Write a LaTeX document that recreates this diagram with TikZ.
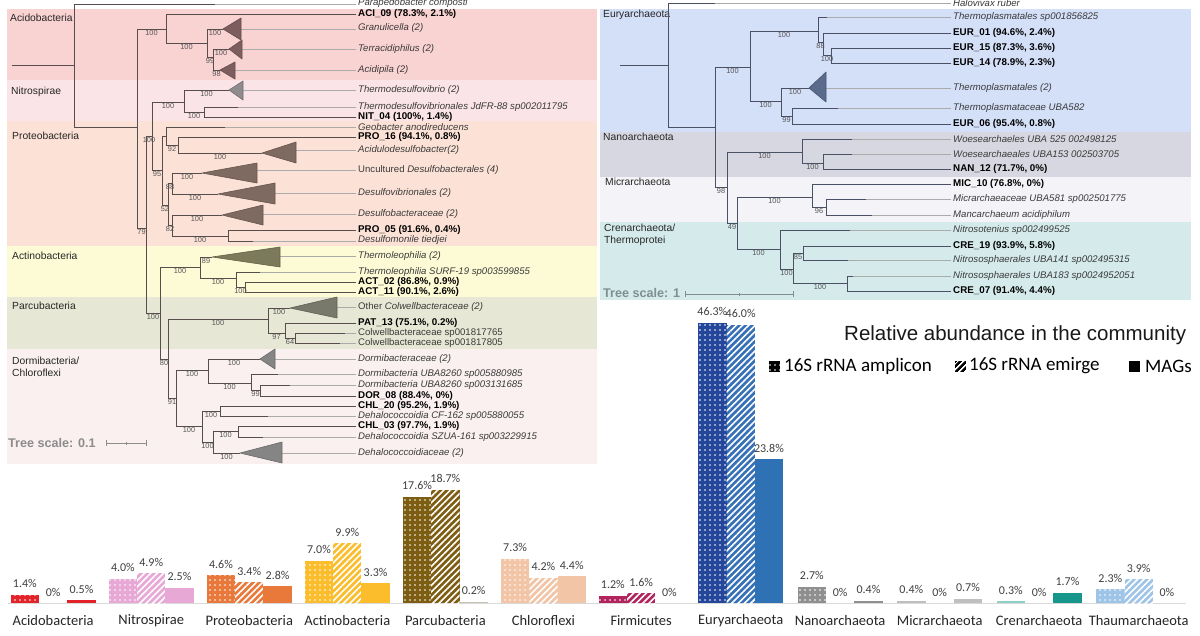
\documentclass[tikz,border=0pt]{standalone}
\usepackage{fontspec}
\setmainfont{Liberation Sans}
\newfontfamily\calib{Carlito}
\usetikzlibrary{patterns,patterns.meta}
\definecolor{brc}{HTML}{574D4D}
\definecolor{brr}{HTML}{4A5164}
\definecolor{ldc}{HTML}{ABABAB}
\definecolor{lfc}{HTML}{3A3A3A}
\definecolor{bsc}{HTML}{555555}
\definecolor{clc}{HTML}{262626}
\definecolor{tsc}{HTML}{8C8C8C}
\definecolor{tsr}{HTML}{7F8F8F}
\definecolor{bAci}{HTML}{F9D2D2}
\definecolor{bNit}{HTML}{FAE4E7}
\definecolor{bPro}{HTML}{FCE2D6}
\definecolor{bAct}{HTML}{FDFBD6}
\definecolor{bPar}{HTML}{E6E7D4}
\definecolor{bDor}{HTML}{FAF0F0}
\definecolor{bEur}{HTML}{D4DFF8}
\definecolor{bNan}{HTML}{D7D7E1}
\definecolor{bMic}{HTML}{F4F4F8}
\definecolor{bCre}{HTML}{D5EBEB}
\definecolor{tAci}{HTML}{7D5E5F}
\definecolor{tNit}{HTML}{8F8B8F}
\definecolor{tPro}{HTML}{7F6A62}
\definecolor{tAct}{HTML}{7B7A5A}
\definecolor{tPar}{HTML}{78786B}
\definecolor{tDor}{HTML}{858585}
\definecolor{tEur}{HTML}{5B6B8B}
\definecolor{cAci}{HTML}{E42229}
\definecolor{cNit}{HTML}{E8A8D6}
\definecolor{cPro}{HTML}{E8793A}
\definecolor{cAct}{HTML}{FBBD2C}
\definecolor{cPar}{HTML}{7C5D12}
\definecolor{cParM}{HTML}{C8C2B4}
\definecolor{cChl}{HTML}{F3C5A7}
\definecolor{cFir}{HTML}{B1245E}
\definecolor{cEurA}{HTML}{24479B}
\definecolor{cEurE}{HTML}{3670B6}
\definecolor{cEurM}{HTML}{2E72B5}
\definecolor{cNan}{HTML}{8F8F8F}
\definecolor{cMic}{HTML}{BFBFBF}
\definecolor{cCreA}{HTML}{8FCFC7}
\definecolor{cCreM}{HTML}{17968B}
\definecolor{cTha}{HTML}{9EC4E7}
\definecolor{vlc}{HTML}{404040}
\definecolor{axc}{HTML}{D9D9D9}
\tikzdeclarepattern{
  name=wdots,
  type=uncolored,
  bounding box={(-2.5pt,-2.5pt) and (2.5pt,2.5pt)},
  tile size={(5pt,5pt)},
  code={\fill (0pt,0pt) circle [radius=0.95pt];}
}
\newcounter{nc}
\newcommand{\lfont}{\fontsize{9.6}{11}\selectfont\itshape}
\newcommand{\ufont}{\fontsize{9.6}{11}\selectfont}
\newcommand{\mfont}{\fontsize{9.8}{11}\selectfont\bfseries}
\newcommand{\sfont}{\fontsize{7.4}{8}\selectfont}
\newcommand{\cfont}{\fontsize{10.3}{12}\selectfont}
\newcommand{\tsfont}{\fontsize{12.6}{14}\selectfont\bfseries}
\newcommand{\lb}[4]{\stepcounter{nc}\node[#1] (n\arabic{nc}) at (#2,#3) {#4};}
\newcommand{\bs}[3]{\stepcounter{nc}\node[bsl] (s\arabic{nc}) at (#1,#2) {#3};}
\newcommand{\bA}[3]{\fill[#3] ({#1},603) rectangle ({#1+28.3},{603-6.05*#2});
  \fill[pattern=wdots,pattern color=white] ({#1},603) rectangle ({#1+28.3},{603-6.05*#2});}
\newcommand{\bE}[3]{\fill[#3] ({#1},603) rectangle ({#1+28.3},{603-6.05*#2});
  \fill[pattern={Lines[angle=45,distance=4.5pt,line width=1.6pt]},pattern color=white] ({#1},603) rectangle ({#1+28.3},{603-6.05*#2});}
\newcommand{\bM}[3]{\fill[#3] ({#1},603) rectangle ({#1+28.3},{603-6.05*#2});}
\newcommand{\vl}[3]{\stepcounter{nc}\node[vlab] (v\arabic{nc}) at ({#1+14.15},{592-6.05*#2}) {#3};}
\newcommand{\grp}[8]{%
  \ifdim #5pt>0pt \bA{#1}{#5}{#2}\fi
  \ifdim #6pt>0pt \bE{#1+28.3}{#6}{#3}\fi
  \ifdim #7pt>0pt \bM{#1+56.6}{#7}{#4}\fi
  \vl{#1}{#5}{#5\%}\vl{#1+28.3}{#6}{#6\%}\vl{#1+56.6}{#7}{#7\%}
  \stepcounter{nc}\node[catl] (c\arabic{nc}) at ({#1+42.45},621) {#8};}
\begin{document}
\begin{tikzpicture}[x=1pt,y=-1pt,
  br/.style={draw=brc,line width=0.9pt,line cap=rect},
  brr/.style={draw=brr,line width=0.9pt,line cap=rect},
  ld/.style={draw=ldc,line width=0.5pt},
  lf/.style={anchor=west,inner sep=0pt,font=\lfont,text=lfc},
  up/.style={anchor=west,inner sep=0pt,font=\ufont,text=lfc},
  mg/.style={anchor=west,inner sep=0pt,font=\mfont,text=black},
  bsl/.style={anchor=north,inner sep=0pt,font=\sfont,text=bsc},
  cl/.style={anchor=west,inner sep=0pt,font=\cfont,text=clc,align=left},
  tri/.style={line width=0.6pt,line join=round},
  vlab/.style={inner sep=0pt,font=\calib\fontsize{12}{13}\selectfont,text=vlc},
  catl/.style={inner sep=0pt,font=\calib\fontsize{14.5}{16}\selectfont,text=clc},
  legt/.style={anchor=west,inner sep=0pt,font=\calib\fontsize{19}{21}\selectfont,text=black},
]
\useasboundingbox (0,0) rectangle (1200,635);
\fill[white] (0,0) rectangle (1200,635);
% ---------- left panel bands
\fill[bAci] (7,9) rectangle (597,80);
\fill[bNit] (7,80) rectangle (597,121);
\fill[bPro] (7,121) rectangle (597,246);
\fill[bAct] (7,246) rectangle (597,297);
\fill[bPar] (7,297) rectangle (597,349);
\fill[bDor] (7,349) rectangle (597,464);
% ---------- right panel bands
\fill[bEur] (600,9) rectangle (1191,132);
\fill[bNan] (600,132) rectangle (1191,177);
\fill[bMic] (600,177) rectangle (1191,222);
\fill[bCre] (600,222) rectangle (1191,300);
% ---------- band labels
\lb{cl}{10}{18}{Acidobacteria}
\lb{cl}{11}{92}{Nitrospirae}
\lb{cl}{12}{136}{Proteobacteria}
\lb{cl}{12}{256}{Actinobacteria}
\lb{cl}{12}{306}{Parcubacteria}
\lb{cl}{12}{367}{Dormibacteria/\\Chloroflexi}
\lb{cl}{603}{15}{Euryarchaeota}
\lb{cl}{603}{137}{Nanoarchaeota}
\lb{cl}{605}{182}{Micrarchaeota}
\lb{cl}{604}{235}{Crenarchaeota/\\Thermoprotei}
% ---------- left tree leaders
\draw[ld] (215,4)--(356,4) (241,29)--(356,29) (242,49)--(356,49) (235,70)--(356,70)
 (243,90)--(356,90) (238,107)--(356,107) (225,127)--(356,127) (296,150)--(356,150)
 (257,170)--(356,170) (275,193)--(356,193) (263,214)--(356,214) (253,241)--(356,241)
 (280,256)--(356,256) (260,272)--(356,272) (337,307)--(356,307) (345,333)--(356,333)
 (340,343)--(356,343) (275,359)--(356,359) (278,374)--(356,374) (290,385)--(356,385)
 (268,416)--(356,416) (263,437)--(356,437) (282,453)--(356,453);
% ---------- left tree branches
\draw[br]
 (12,65)--(74,65) (74,4)--(74,127) (74,4)--(215,4) (74,127)--(137,127)
 (137,29)--(137,228)
 (137,29)--(166,29) (166,14)--(166,43) (166,14)--(356,14)
 (166,43)--(207,43) (207,29)--(207,57) (207,29)--(223,29)
 (207,57)--(213,57) (213,49)--(213,70) (213,49)--(229,49) (213,70)--(220,70)
 (137,228)--(146,228) (146,136)--(146,313)
 (146,136)--(152,136) (152,102)--(152,170)
 (152,102)--(184,102) (184,90)--(184,112) (184,90)--(229,90)
 (184,112)--(204,112) (204,107)--(204,117) (204,107)--(238,107) (204,117)--(356,117)
 (152,170)--(162,170) (162,136)--(162,205)
 (162,136)--(166,136) (166,127)--(166,145) (166,127)--(225,127)
 (166,145)--(178,145) (178,137)--(178,153) (178,137)--(356,137) (178,153)--(262,153)
 (162,205)--(168,205) (168,183.5)--(168,225)
 (168,183.5)--(172,183.5) (172,173)--(172,194) (172,173)--(202,173) (172,194)--(218,194)
 (168,225)--(172,225) (172,215)--(172,236) (172,215)--(222,215) (172,236)--(228,236)
 (228,230)--(228,241) (228,230)--(356,230) (228,241)--(253,241)
 (146,313)--(160,313) (160,267)--(160,359)
 (160,267)--(200,267) (200,257)--(200,278) (200,257)--(212,257)
 (200,278)--(236,278) (236,272)--(236,287) (236,272)--(260,272)
 (236,287)--(245,287) (245,282)--(245,292) (245,282)--(356,282) (245,292)--(356,292)
 (160,359)--(168,359) (168,319)--(168,398)
 (168,319)--(268,319) (268,308)--(268,333) (268,308)--(290,308)
 (268,333)--(285,333) (285,323)--(285,338) (285,323)--(356,323)
 (285,338)--(295,338) (295,333)--(295,343) (295,333)--(345,333) (295,343)--(340,343)
 (168,398)--(176,398) (176,370)--(176,426)
 (176,370)--(208,370) (208,359)--(208,383) (208,359)--(260,359)
 (208,383)--(251,383) (251,374)--(251,390) (251,374)--(278,374)
 (251,390)--(260,390) (260,385)--(260,396) (260,385)--(290,385) (260,396)--(356,396)
 (176,426)--(202,426) (202,411)--(202,442)
 (202,411)--(220,411) (220,406)--(220,416) (220,406)--(356,406) (220,416)--(268,416)
 (202,442)--(213,442) (213,431)--(213,453)
 (213,431)--(238,431) (238,426)--(238,437) (238,426)--(356,426) (238,437)--(263,437)
 (213,453)--(240,453);
% ---------- left triangles
\filldraw[tri,fill=tAci,draw=tAci!80!black] (223,29)--(241,18)--(241,40)--cycle;
\filldraw[tri,fill=tAci,draw=tAci!80!black] (229,49)--(242,40)--(242,59)--cycle;
\filldraw[tri,fill=tAci,draw=tAci!80!black] (220,70)--(235,62)--(235,79)--cycle;
\filldraw[tri,fill=tNit,draw=tNit!80!black] (229,90)--(243,81)--(243,100)--cycle;
\filldraw[tri,fill=tPro,draw=tPro!80!black] (262,153)--(296,142)--(296,163)--cycle;
\filldraw[tri,fill=tPro,draw=tPro!80!black] (202,173)--(257,163)--(257,183)--cycle;
\filldraw[tri,fill=tPro,draw=tPro!80!black] (218,194)--(275,183)--(275,204)--cycle;
\filldraw[tri,fill=tPro,draw=tPro!80!black] (222,215)--(263,205)--(263,225)--cycle;
\filldraw[tri,fill=tAct,draw=tAct!80!black] (212,257)--(280,247)--(280,267)--cycle;
\filldraw[tri,fill=tPar,draw=tPar!80!black] (290,308)--(337,297)--(337,318)--cycle;
\filldraw[tri,fill=tDor,draw=tDor!80!black] (260,359)--(275,349)--(275,369)--cycle;
\filldraw[tri,fill=tDor,draw=tDor!80!black] (240,453)--(282,442)--(282,463)--cycle;
% ---------- left support values
\bs{151.5}{30}{100}\bs{186.5}{44}{100}\bs{215}{30}{100}\bs{210}{58}{99}\bs{221}{50}{100}\bs{216.5}{71}{98}
\bs{206.5}{91}{100}\bs{168}{103}{100}\bs{194}{113}{100}
\bs{149}{137}{100}\bs{157}{171}{95}\bs{172}{146}{92}\bs{220}{154}{100}\bs{165}{206}{52}
\bs{170}{184.5}{88}\bs{187}{174}{100}\bs{195}{195}{100}\bs{170}{226}{82}\bs{197}{216}{100}
\bs{200}{237}{100}\bs{141.5}{229}{79}
\bs{153}{314}{100}\bs{180}{268}{100}\bs{206}{258}{89}\bs{218}{279}{100}\bs{240.5}{288}{100}
\bs{164}{360}{80}\bs{218}{320}{100}\bs{279}{309}{100}\bs{276.5}{334}{97}\bs{290}{339}{64}
\bs{172}{399}{91}\bs{192}{371}{100}\bs{234}{360}{100}\bs{229.5}{384}{100}\bs{255.5}{391}{99}
\bs{189}{427}{100}\bs{211}{412}{100}\bs{207.5}{443}{100}\bs{225.5}{432}{100}\bs{226.5}{454}{100}
% ---------- left leaf labels
\lb{lf}{358}{3.5}{Parapedobacter composti}
\lb{mg}{358}{14}{ACI\_09 (78.3\%, 2.1\%)}
\lb{lf}{358}{28.5}{Granulicella (2)}
\lb{lf}{358}{49}{Terracidiphilus (2)}
\lb{lf}{358}{70}{Acidipila (2)}
\lb{lf}{358}{90}{Thermodesulfovibrio (2)}
\lb{lf}{358}{107}{Thermodesulfovibrionales JdFR-88 sp002011795}
\lb{mg}{358}{117}{NIT\_04 (100\%, 1.4\%)}
\lb{lf}{358}{127}{Geobacter anodireducens}
\lb{mg}{358}{137}{PRO\_16 (94.1\%, 0.8\%)}
\lb{lf}{358}{150}{Acidulodesulfobacter(2)}
\lb{up}{358}{170}{Uncultured \textit{Desulfobacterales (4)}}
\lb{lf}{358}{193}{Desulfovibrionales (2)}
\lb{lf}{358}{214}{Desulfobacteraceae (2)}
\lb{mg}{358}{230}{PRO\_05 (91.6\%, 0.4\%)}
\lb{lf}{358}{240.5}{Desulfomonile tiedjei}
\lb{lf}{358}{256}{Thermoleophilia (2)}
\lb{lf}{358}{272}{Thermoleophilia SURF-19 sp003599855}
\lb{mg}{358}{282}{ACT\_02 (86.8\%, 0.9\%)}
\lb{mg}{358}{292}{ACT\_11 (90.1\%, 2.6\%)}
\lb{up}{358}{307}{Other \textit{Colwellbacteraceae (2)}}
\lb{mg}{358}{323}{PAT\_13 (75.1\%, 0.2\%)}
\lb{up}{358}{333}{Colwellbacteraceae sp001817765}
\lb{up}{358}{343}{Colwellbacteraceae sp001817805}
\lb{lf}{358}{359}{Dormibacteraceae (2)}
\lb{lf}{358}{374}{Dormibacteria UBA8260 sp005880985}
\lb{lf}{358}{385}{Dormibacteria UBA8260 sp003131685}
\lb{mg}{358}{396}{DOR\_08 (88.4\%, 0\%)}
\lb{mg}{358}{406}{CHL\_20 (95.2\%, 1.9\%)}
\lb{lf}{358}{416}{Dehalococcoidia CF-162 sp005880055}
\lb{mg}{358}{426}{CHL\_03 (97.7\%, 1.9\%)}
\lb{lf}{358}{437}{Dehalococcoidia SZUA-161 sp003229915}
\lb{lf}{358}{453}{Dehalococcoidiaceae (2)}
% ---------- left tree scale
\lb{anchor=west,inner sep=0pt,font=\tsfont,text=tsc}{8}{443}{Tree scale: 0.1}
\draw[tsc,line width=0.8pt] (106,443)--(146,443) (106,440)--(106,446) (146,440)--(146,446) (126,441.5)--(126,444.5);
% ---------- right tree leaders
\draw[ld] (715,3)--(951,3) (827,17)--(951,17) (826,88)--(951,88) (838,108)--(951,108)
 (852,139)--(951,139) (852,154)--(951,154) (866,199)--(951,199) (872,215)--(951,215)
 (850,230)--(951,230) (848,260)--(951,260) (853,276)--(951,276);
% ---------- right tree branches
\draw[brr]
 (620,65)--(668,65) (668,3)--(668,127) (668,3)--(715,3) (668,127)--(715,127)
 (715,67)--(715,187)
 (715,67)--(750,67) (750,31)--(750,101)
 (750,31)--(818,31) (818,17)--(818,42) (818,17)--(827,17)
 (818,42)--(823,42) (823,33)--(823,55.5) (823,33)--(951,33)
 (823,55.5)--(831,55.5) (831,48)--(831,63) (831,48)--(951,48) (831,63)--(951,63)
 (750,101)--(781,101) (781,88)--(781,116) (781,88)--(809,88)
 (781,116)--(792,116) (792,108)--(792,124) (792,108)--(838,108) (792,124)--(951,124)
 (715,187)--(727,187) (727,152)--(727,223)
 (727,152)--(802,152) (802,139)--(802,163) (802,139)--(852,139)
 (802,163)--(823,163) (823,154)--(823,169) (823,154)--(852,154) (823,169)--(951,169)
 (727,223)--(737,223) (737,197)--(737,249)
 (737,197)--(812,197) (812,184)--(812,207) (812,184)--(951,184)
 (812,207)--(826,207) (826,199)--(826,215) (826,199)--(866,199) (826,215)--(872,215)
 (737,249)--(780,249) (780,230)--(780,269) (780,230)--(850,230)
 (780,269)--(793,269) (793,253)--(793,283)
 (793,253)--(803,253) (803,246)--(803,260) (803,246)--(951,246) (803,260)--(848,260)
 (793,283)--(847,283) (847,276)--(847,291) (847,276)--(853,276) (847,291)--(951,291);
\filldraw[tri,fill=tEur,draw=tEur!80!black] (809,88)--(826,72)--(826,102)--cycle;
% ---------- right support values
\bs{732.5}{68}{100}\bs{784}{32}{100}\bs{820.5}{43}{88}\bs{827}{56.5}{100}\bs{765.5}{102}{100}
\bs{795}{89}{100}\bs{786.5}{117}{99}\bs{721}{188}{98}\bs{764.5}{153}{100}\bs{812.5}{164}{100}
\bs{732}{224}{49}\bs{774.5}{198}{100}\bs{819}{208}{96}\bs{758.5}{250}{100}\bs{786.5}{270}{100}
\bs{798}{254}{85}\bs{820}{284}{100}
% ---------- right leaf labels
\lb{lf}{953}{3}{Halovivax ruber}
\lb{lf}{953}{17}{Thermoplasmatales sp001856825}
\lb{mg}{953}{33}{EUR\_01 (94.6\%, 2.4\%)}
\lb{mg}{953}{48}{EUR\_15 (87.3\%, 3.6\%)}
\lb{mg}{953}{63}{EUR\_14 (78.9\%, 2.3\%)}
\lb{lf}{953}{88}{Thermoplasmatales (2)}
\lb{lf}{953}{108}{Thermoplasmataceae UBA582}
\lb{mg}{953}{124}{EUR\_06 (95.4\%, 0.8\%)}
\lb{lf}{953}{139}{Woesearchaeles UBA 525 002498125}
\lb{lf}{953}{154}{Woesearchaeales UBA153 002503705}
\lb{mg}{953}{169}{NAN\_12 (71.7\%, 0\%)}
\lb{mg}{953}{184}{MIC\_10 (76.8\%, 0\%)}
\lb{lf}{953}{199}{Micrarchaeaceae UBA581 sp002501775}
\lb{lf}{953}{215}{Mancarchaeum acidiphilum}
\lb{lf}{953}{230}{Nitrosotenius sp002499525}
\lb{mg}{953}{246}{CRE\_19 (93.9\%, 5.8\%)}
\lb{lf}{953}{260}{Nitrososphaerales UBA141 sp002495315}
\lb{lf}{953}{276}{Nitrososphaerales UBA183 sp0024952051}
\lb{mg}{953}{291}{CRE\_07 (91.4\%, 4.4\%)}
% ---------- right tree scale
\lb{anchor=west,inner sep=0pt,font=\tsfont,text=tsr}{603}{293}{Tree scale: 1}
\draw[tsr,line width=0.8pt] (685,294)--(793,294) (685,291)--(685,297) (793,291)--(793,297) (739,292.5)--(739,295.5);
% ---------- bar chart
\draw[axc,line width=0.6pt] (8,603.4)--(1186,603.4);
\grp{10.7}{cAci}{cAci}{cAci}{1.4}{0}{0.5}{Acidobacteria}
\grp{108.75}{cNit}{cNit}{cNit}{4.0}{4.9}{2.5}{Nitrospirae}
\grp{206.8}{cPro}{cPro}{cPro}{4.6}{3.4}{2.8}{Proteobacteria}
\grp{304.85}{cAct}{cAct}{cAct}{7.0}{9.9}{3.3}{Actinobacteria}
\grp{402.9}{cPar}{cPar}{cParM}{17.6}{18.7}{0.2}{Parcubacteria}
\grp{500.95}{cChl}{cChl}{cChl}{7.3}{4.2}{4.4}{Chloroflexi}
\grp{598.7}{cFir}{cFir}{cFir}{1.2}{1.6}{0}{Firmicutes}
\grp{698.2}{cEurA}{cEurE}{cEurM}{46.3}{46.0}{23.8}{Euryarchaeota}
\grp{797.7}{cNan}{cNan}{cNan}{2.7}{0}{0.4}{Nanoarchaeota}
\grp{897.2}{cMic}{cMic}{cMic}{0.4}{0}{0.7}{Micrarchaeota}
\grp{996.7}{cCreA}{cCreA}{cCreM}{0.3}{0}{1.7}{Crenarchaeota}
\grp{1096.2}{cTha}{cTha}{cTha}{2.3}{3.9}{0}{Thaumarchaeota}
% ---------- legend
\lb{anchor=west,inner sep=0pt,font=\fontsize{20.5}{23}\selectfont,text=black!90}{844}{335}{Relative abundance in the community}
\fill[black] (769,360.5) rectangle (780,371.5);
\fill[pattern=wdots,pattern color=white] (769,360.5) rectangle (780,371.5);
\lb{legt}{784}{366}{16S rRNA amplicon}
\fill[black] (955,360.5) rectangle (966,371.5);
\fill[pattern={Lines[angle=45,distance=4pt,line width=1.5pt]},pattern color=white] (955,360.5) rectangle (966,371.5);
\lb{legt}{969}{366}{16S rRNA emirge}
\fill[black] (1129,360.5) rectangle (1140,371.5);
\lb{legt}{1145}{366}{MAGs}
\end{tikzpicture}
\end{document}
